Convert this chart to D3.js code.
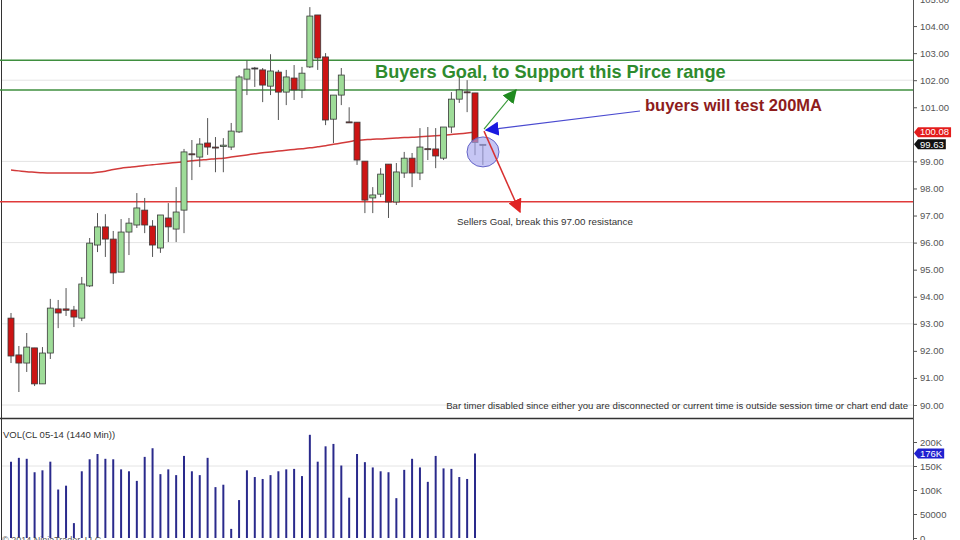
<!DOCTYPE html>
<html lang="en">
<head>
<meta charset="utf-8">
<title>CL 05-14 daily</title>
<script src="https://cdn.jsdelivr.net/npm/d3@7"></script>
<style>
  body { margin: 0; background: #fff; }
  text { font-family: "Liberation Sans", Arial, sans-serif; }
</style>
</head>
<body>
<script>
// OHLC, one entry per daily bar
var opens  = [93.21, 91.85, 91.55, 92.11, 90.78, 91.92, 93.55, 93.55, 93.51, 93.21, 94.40, 95.91, 96.58, 96.13, 94.91, 96.39, 96.65, 97.20, 96.61, 95.80,
              96.91, 96.50, 97.20, 99.28, 99.16, 99.68, 99.53, 99.55, 99.53, 100.09, 102.04, 102.45, 102.38, 101.78, 102.30, 101.56, 102.08, 101.64, 102.49, 104.41,
              102.86, 100.56, 101.45, 100.46, 100.45, 99.01, 97.65, 97.79, 98.90, 97.50, 98.57, 99.12, 98.57, 99.47, 99.46, 99.12, 100.27, 101.30, 101.57, 101.53, 99.63];
var highs  = [93.40, 92.18, 92.66, 92.11, 92.14, 93.92, 93.88, 94.32, 93.66, 94.73, 96.17, 97.09, 97.05, 96.43, 96.87, 96.91, 97.83, 97.65, 96.83, 97.02,
              97.46, 98.05, 99.46, 99.79, 99.86, 100.60, 99.90, 99.86, 100.42, 102.19, 102.74, 102.49, 102.45, 102.96, 102.38, 102.38, 102.56, 102.49, 104.70, 104.41,
              103.00, 101.45, 102.45, 101.00, 100.45, 99.01, 98.05, 98.75, 98.90, 98.94, 99.35, 99.31, 100.23, 100.27, 100.23, 100.27, 101.56, 102.12, 102.00, 101.53, 99.63];
var lows   = [91.55, 90.48, 91.22, 90.70, 90.78, 91.70, 92.84, 93.29, 92.88, 93.10, 94.36, 95.65, 95.47, 94.47, 94.91, 95.54, 96.54, 96.35, 95.47, 95.62,
              96.02, 96.02, 96.35, 98.31, 98.79, 99.24, 98.60, 98.60, 99.42, 100.05, 101.45, 101.75, 101.19, 101.45, 100.53, 101.08, 101.27, 101.34, 102.45, 102.38,
              100.34, 99.68, 101.08, 100.42, 98.87, 97.09, 97.09, 97.68, 96.91, 97.39, 98.39, 98.05, 98.31, 99.05, 98.75, 99.05, 100.05, 101.16, 100.82, 99.23, 98.87];
var closes = [91.81, 91.55, 92.14, 90.78, 91.92, 93.58, 93.40, 93.50, 93.25, 94.47, 95.98, 96.58, 96.13, 94.88, 96.39, 96.72, 97.28, 96.65, 95.91, 97.02,
              96.58, 97.13, 99.35, 99.27, 99.64, 99.53, 99.50, 99.60, 100.12, 102.12, 102.41, 102.45, 101.82, 102.34, 101.56, 102.12, 101.64, 102.26, 104.37, 102.82,
              100.53, 101.45, 102.19, 100.44, 99.05, 97.57, 97.76, 98.53, 97.50, 98.61, 99.12, 98.57, 99.53, 99.46, 99.20, 100.27, 101.30, 101.64, 101.56, 99.70, 99.63];
// daily volume (last bar has none yet)
var volumes = [159000, 167000, 165000, 137000, 141000, 159000, 101000, 109000, 31000, 139000, 164000, 175000, 165000, 164000, 143000, 139000, 119000, 169000, 187000, 133000,
               143000, 131000, 171000, 139000, 131000, 167000, 106000, 111000, 19000, 79000, 141000, 127000, 123000, 131000, 139000, 143000, 144000, 129000, 215000, 159000,
               191000, 196000, 151000, 84000, 175000, 158000, 147000, 139000, 137000, 83000, 142000, 165000, 147000, 117000, 171000, 145000, 144000, 127000, 123000, 176000, null];
// 200 period moving average
var ma200 = [98.68, 98.65, 98.62, 98.60, 98.58, 98.57, 98.57, 98.57, 98.57, 98.57, 98.57, 98.60, 98.64, 98.70, 98.75, 98.78, 98.81, 98.85, 98.88, 98.90,
             98.93, 98.96, 98.99, 99.02, 99.05, 99.07, 99.10, 99.12, 99.16, 99.20, 99.24, 99.28, 99.32, 99.35, 99.38, 99.41, 99.44, 99.47, 99.50, 99.54,
             99.58, 99.63, 99.68, 99.73, 99.78, 99.80, 99.82, 99.83, 99.85, 99.86, 99.88, 99.89, 99.91, 99.93, 99.95, 99.97, 99.99, 100.02, 100.05, 100.08];

// 100.00 sits under the MA tag, so it is not labelled
var priceTicks = [90, 91, 92, 93, 94, 95, 96, 97, 98, 99, 101, 102, 103, 104, 105];
var priceGrid = [90, 93, 96, 99, 102, 105];
var volTicks = [0, 50000, 100000, 150000, 200000];
var volTickLabels = ["0", "50000", "100K", "150K", "200K"];

var buyersLevels = [102.74, 101.64];
var sellersLevel = 97.51;
var lastMA = 100.08, lastPrice = 99.63, lastVol = 176000;

var W = 960, H = 540;
var axisX = 913;

var svg = d3.select("body").append("svg")
    .attr("width", W).attr("height", H)
    .style("display", "block");

svg.append("rect").attr("width", W).attr("height", H).attr("fill", "#fff");

var x = d3.scaleLinear().domain([0, 59]).range([11, 475]);
var y = d3.scaleLinear().domain([90, 105]).range([405, -1]);
var vy = d3.scaleLinear().domain([0, 200000]).range([538, 442]);

// grid
svg.append("g").selectAll("line").data(priceGrid).enter().append("line")
    .attr("x1", 2).attr("x2", axisX)
    .attr("y1", function (d) { return y(d); }).attr("y2", function (d) { return y(d); })
    .attr("stroke", "#e4e4e4");
svg.append("line").attr("x1", 2).attr("x2", axisX)
    .attr("y1", vy(150000)).attr("y2", vy(150000)).attr("stroke", "#e4e4e4");

// panel frame
svg.append("line").attr("x1", 1.5).attr("x2", 1.5).attr("y1", 0).attr("y2", H).attr("stroke", "#333");
svg.append("line").attr("x1", 0).attr("x2", axisX).attr("y1", 418.5).attr("y2", 418.5).attr("stroke", "#333").attr("stroke-width", 1.5);

// buyers / sellers levels
svg.append("g").selectAll("line").data(buyersLevels).enter().append("line")
    .attr("x1", 0).attr("x2", axisX)
    .attr("y1", function (d) { return y(d); }).attr("y2", function (d) { return y(d); })
    .attr("stroke", "#3f8f3f").attr("stroke-width", 1.5);
svg.append("line").attr("x1", 0).attr("x2", axisX)
    .attr("y1", y(sellersLevel)).attr("y2", y(sellersLevel))
    .attr("stroke", "#e03a3a").attr("stroke-width", 1.5);

// moving average
var maLine = d3.line()
    .x(function (d, i) { return x(i); })
    .y(function (d) { return y(d); })
    .curve(d3.curveMonotoneX);
svg.append("path").datum(ma200)
    .attr("d", maLine).attr("fill", "none")
    .attr("stroke", "#d23a3a").attr("stroke-width", 1.5);

// candles
var bars = opens.map(function (o, i) {
    return { i: i, o: o, h: highs[i], l: lows[i], c: closes[i], v: volumes[i] };
});
var candles = svg.append("g").selectAll("g").data(bars).enter().append("g");
candles.append("line")
    .attr("x1", function (d) { return x(d.i); }).attr("x2", function (d) { return x(d.i); })
    .attr("y1", function (d) { return y(d.h); }).attr("y2", function (d) { return y(d.l); })
    .attr("stroke", "#555").attr("stroke-width", 1);
candles.append("rect")
    .attr("x", function (d) { return x(d.i) - 3; })
    .attr("width", 6)
    .attr("y", function (d) { return y(Math.max(d.o, d.c)); })
    .attr("height", function (d) { return Math.max(1, Math.abs(y(d.o) - y(d.c))); })
    .attr("fill", function (d) { return d.c > d.o ? "#9edc98" : (d.c < d.o ? "#cc1414" : "#444"); })
    .attr("stroke", "#3a3a3a").attr("stroke-width", 0.8);

// volume
svg.append("g").selectAll("line").data(bars.filter(function (d) { return d.v != null; })).enter().append("line")
    .attr("x1", function (d) { return x(d.i); }).attr("x2", function (d) { return x(d.i); })
    .attr("y1", function (d) { return vy(d.v); }).attr("y2", vy(0))
    .attr("stroke", "#2a2a8c").attr("stroke-width", 2);

// axes
var yAxis = d3.axisRight(y).tickValues(priceTicks).tickFormat(d3.format(".2f")).tickSize(4).tickPadding(3);
var gy = svg.append("g").attr("transform", "translate(" + axisX + ",0)").call(yAxis);
var vAxis = d3.axisRight(vy).tickValues(volTicks)
    .tickFormat(function (d, i) { return volTickLabels[i]; }).tickSize(4).tickPadding(3);
var gv = svg.append("g").attr("transform", "translate(" + axisX + ",0)").call(vAxis);
[gy, gv].forEach(function (g) {
    g.select(".domain").remove();
    g.selectAll("line").attr("stroke", "#555");
    g.selectAll("text").attr("fill", "#555").style("font-size", "9.5px");
});
svg.append("line").attr("x1", axisX + 0.5).attr("x2", axisX + 0.5).attr("y1", 0).attr("y2", H).attr("stroke", "#555");

// value tags on the axis
function tag(val, scale, bg, label) {
    var ty = scale(val);
    var g = svg.append("g");
    var p = g.append("path").attr("fill", bg);
    var t = g.append("text").attr("x", axisX + 7).attr("y", ty + 3.3)
        .attr("fill", "#fff").style("font-size", "9.5px").text(label);
    var w = t.node().getComputedTextLength();
    p.attr("d", "M" + (axisX + 1) + "," + ty + " L" + (axisX + 5) + "," + (ty - 5) +
        " H" + (axisX + 9 + w) + " V" + (ty + 5) + " H" + (axisX + 5) + " Z");
}
tag(lastMA, y, "#e31c1c", d3.format(".2f")(lastMA));
tag(lastPrice, y, "#111", d3.format(".2f")(lastPrice));
tag(lastVol, vy, "#2020d0", "176K");

// annotations
var defs = svg.append("defs");
[["g", "#1f8a1f"], ["b", "#1a1ae0"], ["r", "#e02424"]].forEach(function (m) {
    defs.append("marker").attr("id", "ah-" + m[0])
        .attr("viewBox", "0 0 10 10").attr("refX", 9).attr("refY", 5)
        .attr("markerWidth", 14).attr("markerHeight", 14).attr("markerUnits", "userSpaceOnUse")
        .attr("orient", "auto")
        .append("path").attr("d", "M0,0 L10,5 L0,10 Z").attr("fill", m[1]);
});

svg.append("ellipse").attr("cx", x(59) + 8).attr("cy", y(99.35)).attr("rx", 16).attr("ry", 15)
    .attr("fill", "#a8a8ee").attr("fill-opacity", 0.65).attr("stroke", "#6464c8").attr("stroke-width", 1);

var tip = [x(59) + 9, y(lastMA) - 3];
svg.append("line").attr("x1", tip[0]).attr("y1", tip[1]).attr("x2", 516).attr("y2", 90)
    .attr("stroke", "#3a9a3a").attr("stroke-width", 1.2).attr("marker-end", "url(#ah-g)");
svg.append("line").attr("x1", 640).attr("y1", 111).attr("x2", tip[0] + 2).attr("y2", tip[1] + 1)
    .attr("stroke", "#4a4ad0").attr("stroke-width", 1.2).attr("marker-end", "url(#ah-b)");
svg.append("line").attr("x1", tip[0]).attr("y1", tip[1] + 2).attr("x2", 520).attr("y2", 212)
    .attr("stroke", "#d83030").attr("stroke-width", 1.5).attr("marker-end", "url(#ah-r)");

svg.append("text").attr("x", 375).attr("y", 78)
    .attr("fill", "#2e8b2e").style("font-size", "18.2px").style("font-weight", "bold")
    .text("Buyers Goal, to Support this Pirce range");
svg.append("text").attr("x", 645).attr("y", 111)
    .attr("fill", "#8e1c1c").style("font-size", "16.5px").style("font-weight", "bold")
    .text("buyers will test 200MA");
svg.append("text").attr("x", 457).attr("y", 225)
    .attr("fill", "#333").style("font-size", "9.8px")
    .text("Sellers Goal, break this 97.00 resistance");
svg.append("text").attr("x", 908).attr("y", 409).attr("text-anchor", "end")
    .attr("fill", "#333").style("font-size", "9.6px")
    .text("Bar timer disabled since either you are disconnected or current time is outside session time or chart end date");
svg.append("text").attr("x", 3).attr("y", 438)
    .attr("fill", "#333").style("font-size", "9.5px")
    .text("VOL(CL 05-14 (1440 Min))");
svg.append("text").attr("x", 2).attr("y", 543)
    .attr("fill", "#555").style("font-size", "9px")
    .text("\u00a9 2014 NinjaTrader, LLC");
</script>
</body>
</html>
